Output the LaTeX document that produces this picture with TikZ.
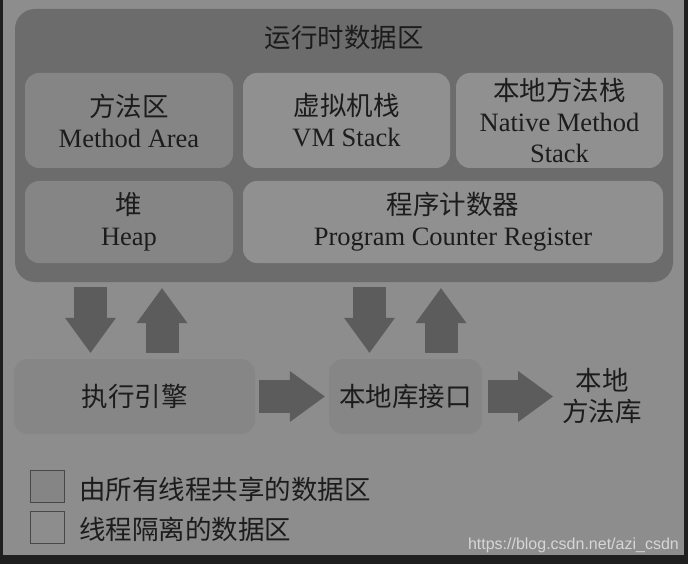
\documentclass[tikz,border=0pt]{standalone}
\usepackage{fontspec}
\setmainfont{Liberation Serif}
\newfontfamily\cjk{Noto Sans CJK SC}
\newfontfamily\wmfont{Liberation Sans}
\usetikzlibrary{arrows.meta,calc}
\definecolor{darkc}{HTML}{1F1F20}
\definecolor{bgc}{HTML}{8D8D8E}
\definecolor{ctrc}{HTML}{6C6C6D}
\definecolor{sharedc}{HTML}{858586}
\definecolor{isoc}{HTML}{909091}
\definecolor{enginec}{HTML}{868687}
\definecolor{arrowc}{HTML}{5C5C5D}
\definecolor{textc}{HTML}{1C1C1C}
\definecolor{legendc}{HTML}{474747}
\definecolor{wmc}{HTML}{D6D6D6}
\begin{document}
\begin{tikzpicture}[x=1pt,y=-1pt,
  txt/.style={text=textc, font=\fontsize{26.5}{31}\selectfont, align=center, inner sep=0pt},
  box/.style={txt, rectangle, rounded corners=14pt},
  sharedbox/.style={box, fill=sharedc},
  isobox/.style={box, fill=isoc},
  barrow/.style={draw=arrowc, line width=33pt,
    -{Triangle[length=35pt, width=51pt, line width=0pt]}},
  legbox/.style={draw=legendc, line width=1.4pt, minimum width=34pt, minimum height=32pt, inner sep=0pt}]
\fill[darkc] (0,0) rectangle (688,564);
\fill[bgc] (3,0) rectangle (684,555);
\useasboundingbox (0,0) rectangle (688,564);

% runtime data area container
\node[box, fill=ctrc, rounded corners=20pt, minimum width=658pt, minimum height=273pt] (ctr) at (344,145.5) {};
\node[txt] (title) at (344,37) {\cjk 运行时数据区};

\node[sharedbox, minimum width=208pt, minimum height=95pt] (ma) at (129,120.5) {{\cjk 方法区}\\Method Area};
\node[isobox, minimum width=207pt, minimum height=95pt] (vm) at (346.5,120.5) {{\cjk 虚拟机栈}\\VM Stack};
\node[isobox, minimum width=207pt, minimum height=95pt] (nm) at (559.5,120.5) {{\cjk 本地方法栈}\\Native Method\\Stack};
\node[sharedbox, minimum width=208pt, minimum height=82pt] (heap) at (129,222) {{\cjk 堆}\\Heap};
\node[isobox, minimum width=420pt, minimum height=82pt] (pc) at (453,222) {{\cjk 程序计数器}\\Program Counter Register};

% lower row
\node[box, fill=enginec, minimum width=241pt, minimum height=75pt] (exe) at (134.5,396.5) {\cjk 执行引擎};
\node[box, fill=enginec, minimum width=153pt, minimum height=75pt] (ni) at (405.5,396.5) {\cjk 本地库接口};
\node[txt] (lib) at (602,396) {\cjk 本地\\\cjk 方法库};

% arrow columns
\coordinate (c1) at (90.5,0);
\coordinate (c2) at (162,0);
\coordinate (c3) at (369.5,0);
\coordinate (c4) at (441,0);
\draw[barrow, shorten <=5pt, shorten >=6pt] (ctr.south -| c1) -- (exe.north -| c1);
\draw[barrow, shorten <=6pt, shorten >=6pt] (exe.north -| c2) -- (ctr.south -| c2);
\draw[barrow, shorten <=5pt, shorten >=6pt] (ctr.south -| c3) -- (ni.north -| c3);
\draw[barrow, shorten <=6pt, shorten >=6pt] (ni.north -| c4) -- (ctr.south -| c4);
\draw[barrow, shorten <=4pt, shorten >=4pt] (exe.east) -- (ni.west);
\draw[barrow, shorten <=6pt] (ni.east) -- (553,396.5) coordinate (libin);

% legend
\node[legbox, fill=sharedc] (lg1) at (47.5,486.5) {};
\node[legbox] (lg2) at (47.5,527.5) {};
\node[txt, anchor=west] (lt1) at (79,489) {\cjk 由所有线程共享的数据区};
\node[txt, anchor=west] (lt2) at (79,529) {\cjk 线程隔离的数据区};

% watermark
\node[anchor=east, inner sep=0pt, text=wmc, font=\wmfont\fontsize{16}{18}\selectfont] (wm) at (679,545) {https://blog.csdn.net/azi\_csdn};
\end{tikzpicture}
\end{document}
